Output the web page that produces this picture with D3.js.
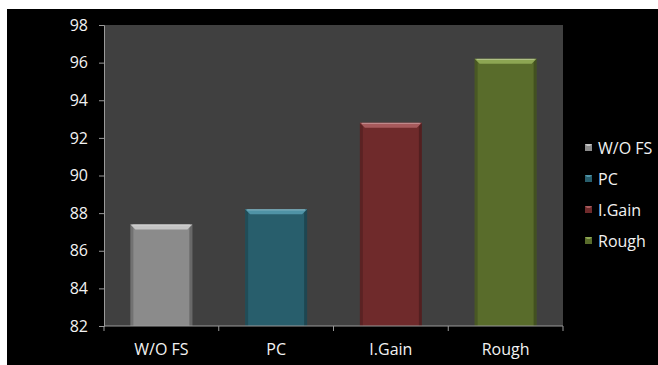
<!DOCTYPE html>
<html>
<head>
<meta charset="utf-8">
<script src="https://cdn.jsdelivr.net/npm/d3@7"></script>
<style>
  html, body { margin: 0; padding: 0; background: #ffffff; }
  svg { display: block; }
  text { font-family: "Open Sans", Lato, sans-serif; }
</style>
</head>
<body>
<svg id="chart" width="658" height="365"></svg>
<script>
// Accuracy by feature-selection method
const categories = ["W/O FS", "PC", "I.Gain", "Rough"];
const values = [87.4, 88.2, 92.8, 96.2];
const yTicks = [82, 84, 86, 88, 90, 92, 94, 96, 98];
const barColors = ["#8b8b8b", "#285e6c", "#6f2a2b", "#596c2b"];
const bevelColors = ["#c4c4c4", "#4f93a6", "#a65a5c", "#8da653"];

const svg = d3.select("#chart");

// black chart background, inset from the page edge
svg.append("rect").attr("x", 7).attr("y", 9).attr("width", 651).attr("height", 356).attr("fill", "#000");

const plot = { left: 104, top: 25, right: 563, bottom: 326 };

const x = d3.scaleBand().domain(categories).range([plot.left, plot.right]).paddingInner(0.46).paddingOuter(0.23);
const y = d3.scaleLinear().domain([82, 98]).range([plot.bottom, plot.top]);

svg.append("rect")
  .attr("x", plot.left).attr("y", plot.top)
  .attr("width", plot.right - plot.left).attr("height", plot.bottom - plot.top)
  .attr("fill", "#404040");

// bars with a bevelled top edge
const bars = svg.append("g");
categories.forEach((c, i) => {
  const x0 = x(c), w = x.bandwidth(), y0 = y(values[i]), h = plot.bottom - y0;
  const g = bars.append("g");
  g.append("rect").attr("x", x0).attr("y", y0).attr("width", w).attr("height", h).attr("fill", barColors[i]);
  // darker side edges
  g.append("rect").attr("x", x0).attr("y", y0).attr("width", 3).attr("height", h)
    .attr("fill", "#000").attr("opacity", 0.18);
  g.append("rect").attr("x", x0 + w - 3).attr("y", y0).attr("width", 3).attr("height", h)
    .attr("fill", "#000").attr("opacity", 0.25);
  // lighter top facet
  const bv = 5;
  g.append("path")
    .attr("d", `M${x0},${y0} L${x0 + w},${y0} L${x0 + w - bv},${y0 + bv} L${x0 + bv},${y0 + bv} Z`)
    .attr("fill", bevelColors[i]);
  g.append("line").attr("x1", x0 + 2).attr("x2", x0 + w - 2).attr("y1", y0 + 0.5).attr("y2", y0 + 0.5)
    .attr("stroke", "#fff").attr("stroke-opacity", 0.35);
});

// y axis
const yAxis = d3.axisLeft(y).tickValues(yTicks).tickSize(5).tickPadding(11).tickFormat(d3.format("d"));
const gy = svg.append("g").attr("transform", `translate(${plot.left},0)`).call(yAxis);
gy.select(".domain").attr("stroke", "#9a9a9a");
gy.selectAll(".tick line").attr("stroke", "#9a9a9a");
gy.selectAll(".tick text").attr("fill", "#f2f2f2").style("font-size", "16px")
  .style("font-family", "'Open Sans', sans-serif");

// x axis: ticks sit between the categories
const gx = svg.append("g").attr("transform", `translate(0,${plot.bottom})`);
gx.append("line").attr("x1", plot.left).attr("x2", plot.right).attr("stroke", "#9a9a9a");
const edges = d3.range(categories.length + 1).map(k => plot.left + k * (plot.right - plot.left) / categories.length);
gx.selectAll("line.tk").data(edges).join("line").attr("class", "tk")
  .attr("x1", d => d).attr("x2", d => d).attr("y1", 0).attr("y2", 5).attr("stroke", "#9a9a9a");
gx.selectAll("text").data(categories).join("text")
  .attr("x", d => x(d) + x.bandwidth() / 2).attr("y", 29)
  .attr("text-anchor", "middle").attr("fill", "#f2f2f2").style("font-size", "16px")
  .text(d => d);

// legend
const legend = svg.append("g").attr("transform", "translate(585,148)");
categories.forEach((c, i) => {
  const g = legend.append("g").attr("transform", `translate(0,${i * 31})`);
  g.append("rect").attr("x", 0).attr("y", -4).attr("width", 7).attr("height", 7).attr("fill", barColors[i]);
  g.append("path").attr("d", "M0,-4 L7,-4 L5,-2 L2,-2 Z").attr("fill", bevelColors[i]);
  g.append("text").attr("x", 13).attr("y", 0).attr("dy", "0.35em")
    .attr("fill", "#f2f2f2").style("font-size", "16px").text(c);
});
</script>
</body>
</html>
